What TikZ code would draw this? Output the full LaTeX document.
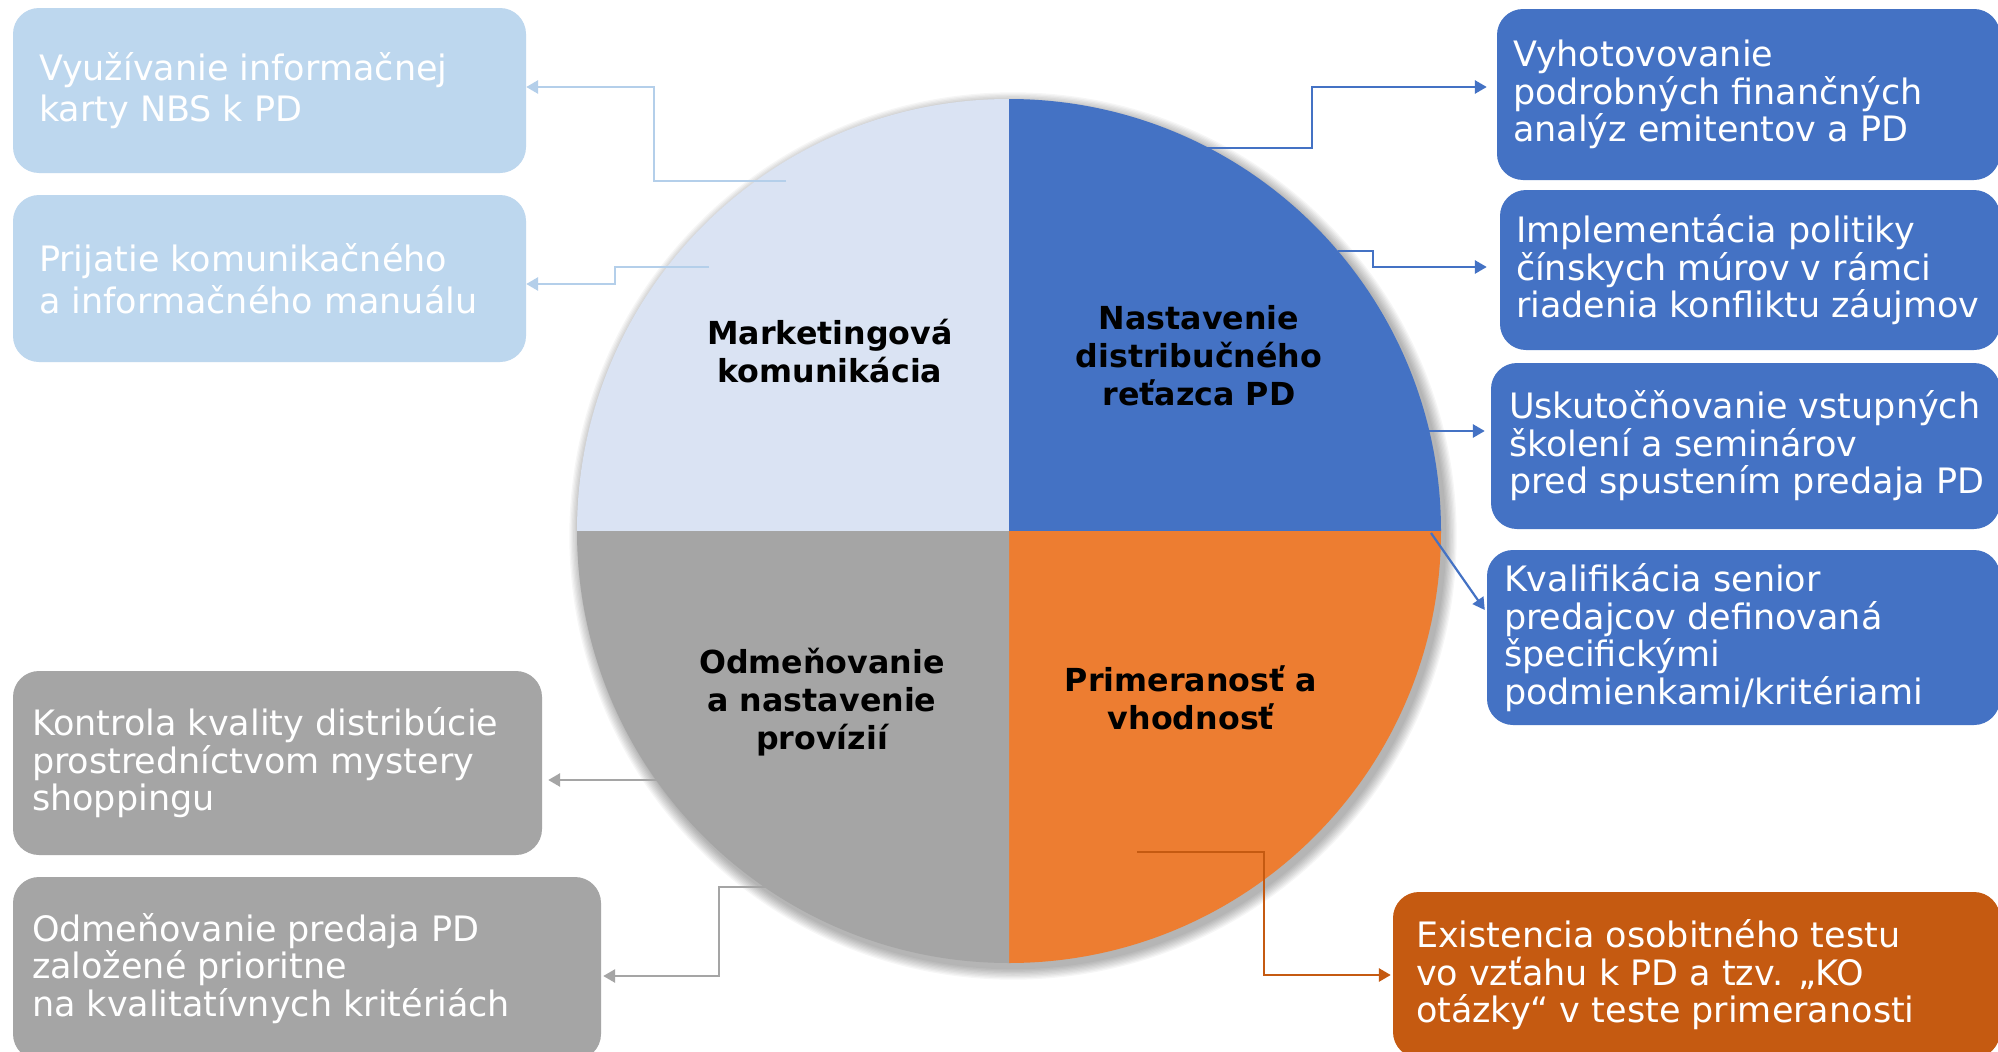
\documentclass[tikz,border=0pt]{standalone}
\usepackage{fontspec}
\setmainfont{DejaVu Sans}
\usetikzlibrary{arrows.meta}
\definecolor{lblue}{HTML}{BDD7EE}
\definecolor{qlight}{HTML}{DAE3F3}
\definecolor{mblue}{HTML}{4472C4}
\definecolor{morange}{HTML}{ED7D31}
\definecolor{dorange}{HTML}{C55A11}
\definecolor{mgray}{HTML}{A5A5A5}
\definecolor{lline}{HTML}{B4CFEA}
\begin{document}
\begin{tikzpicture}[x=1pt,y=-1pt,
  boxshape/.style={rounded corners=26pt, inner sep=0pt},
  boxtext/.style={anchor=west, align=left, text=white, inner sep=0pt, font=\fontsize{35}{37.5}\selectfont},
  qlabel/.style={align=center, inner sep=0pt, font=\fontsize{31.7}{38}\selectfont\bfseries},
  conn/.style={line width=2.8pt, -{Triangle[length=12pt,width=13pt]}}]
\useasboundingbox (0,0) rectangle (1998,1052);
\fill[white] (0,0) rectangle (1998,1052);

% circle shadow
\coordinate (C) at (1009,531);
\foreach \k in {1,...,9}
  \fill[black, opacity=0.035] ([shift={(4,5)}]C) circle[radius=432+1.3*\k];

% quadrants
\fill[qlight] (C) -- +(-432,0) arc[start angle=180, end angle=270, radius=432] -- cycle;
\fill[mblue] (C) -- +(0,-432) arc[start angle=270, end angle=360, radius=432] -- cycle;
\fill[morange] (C) -- +(432,0) arc[start angle=0, end angle=90, radius=432] -- cycle;
\fill[mgray] (C) -- +(0,432) arc[start angle=90, end angle=180, radius=432] -- cycle;

% quadrant labels
\node[qlabel] (qmk) at (830,351) {Marketingová\\komunikácia};
\node[qlabel] (qnd) at (1199,356) {Nastavenie\\distribučného\\reťazca PD};
\node[qlabel] (qod) at (822,702) {Odmeňovanie\\a nastavenie\\provízií};
\node[qlabel] (qpr) at (1191,698) {Primeranosť a\\vhodnosť};

% boxes
\node[boxshape, fill=lblue, minimum width=513pt, minimum height=165pt] (b1) at (269.5,90.5) {};
\node[boxshape, fill=lblue, minimum width=513pt, minimum height=167pt] (b2) at (269.5,278.5) {};
\node[boxshape, fill=mblue, minimum width=503pt, minimum height=171pt] (r1) at (1748.5,94.5) {};
\node[boxshape, fill=mblue, minimum width=500pt, minimum height=160pt] (r2) at (1750,270) {};
\node[boxshape, fill=mblue, minimum width=509pt, minimum height=166pt] (r3) at (1745.5,446) {};
\node[boxshape, fill=mblue, minimum width=513pt, minimum height=175pt] (r4) at (1743.5,637.5) {};
\node[boxshape, fill=dorange, minimum width=607pt, minimum height=166pt] (ob) at (1696.5,975) {};
\node[boxshape, fill=mgray, minimum width=529pt, minimum height=184pt] (g1) at (277.5,763) {};
\node[boxshape, fill=mgray, minimum width=588pt, minimum height=183pt] (g2) at (307,968.5) {};

% box texts
\node[boxtext, font=\fontsize{35}{41.5}\selectfont] (tb1) at ([xshift=26pt]b1.west) {Využívanie informačnej\\karty NBS k PD};
\node[boxtext, font=\fontsize{35}{41.5}\selectfont] (tb2) at ([xshift=26pt]b2.west) {Prijatie komunikačného\\a informačného manuálu};
\node[boxtext] (tr1) at ([xshift=16pt]r1.west) {Vyhotovovanie\\podrobných finančných\\analýz emitentov a PD};
\node[boxtext] (tr2) at ([xshift=16pt]r2.west) {Implementácia politiky\\čínskych múrov v rámci\\riadenia konfliktu záujmov};
\node[boxtext] (tr3) at ([xshift=18pt]r3.west) {Uskutočňovanie vstupných\\školení a seminárov\\pred spustením predaja PD};
\node[boxtext] (tr4) at ([xshift=17pt]r4.west) {Kvalifikácia senior\\predajcov definovaná\\špecifickými\\podmienkami/kritériami};
\node[boxtext] (tob) at ([xshift=23pt]ob.west) {Existencia osobitného testu\\vo vzťahu k PD a tzv. „KO\\otázky“ v teste primeranosti};
\node[boxtext] (tg1) at ([xshift=19pt]g1.west) {Kontrola kvality distribúcie\\prostredníctvom mystery\\shoppingu};
\node[boxtext] (tg2) at ([xshift=19pt]g2.west) {Odmeňovanie predaja PD\\založené prioritne\\na kvalitatívnych kritériách};

% connector start points
\coordinate (s1) at (786,181);
\coordinate (s2) at (709,267);
\coordinate (s3) at (1204,148);
\coordinate (s4) at (1338,251);
\coordinate (s5) at (1428,431);
\coordinate (s6) at (1431,533);
\coordinate (s7) at (1137,852);
\coordinate (s8) at (657,780);
\coordinate (s9) at (765,887);

% connectors
\draw[conn, lline] (s1) -- (654,181) |- ([yshift=3.5pt]b1.east);
\draw[conn, lline] (s2) -- (615,267) |- ([yshift=-5.5pt]b2.east);
\draw[conn, mblue] (s3) -- (1312,148) |- ([xshift=-10pt,yshift=7.5pt]r1.west);
\draw[conn, mblue] (s4) -- (1373,251) |- ([xshift=-13pt,yshift=3pt]r2.west);
\draw[conn, mblue] (s5) -- ([xshift=-6pt,yshift=15pt]r3.west);
\draw[conn, mblue, line width=2.2pt] (s6) -- ([xshift=-2pt,yshift=27.5pt]r4.west);
\draw[conn, dorange] (s7) -- (1264,852) |- ([xshift=-2pt]ob.west);
\draw[conn, mgray] (s8) -- ([xshift=6pt,yshift=-17pt]g1.east);
\draw[conn, mgray] (s9) -- (719,887) |- ([xshift=2pt,yshift=-7.5pt]g2.east);
\end{tikzpicture}
\end{document}
